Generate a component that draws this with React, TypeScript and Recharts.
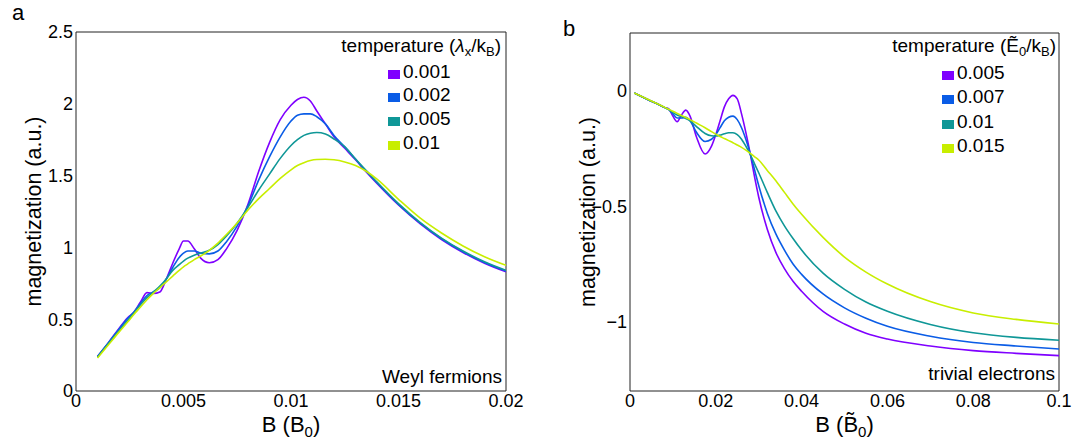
import React from "react"
import { LineChart, Line, XAxis, YAxis, ReferenceArea, Legend, Label } from "recharts"

const FONT = '"Liberation Sans", Arial, Helvetica, sans-serif'
const COLORS = ["#7f00ff", "#0a5ce6", "#0f9797", "#c8ee00"]

// panel a: Weyl fermions
const weylTemps = ["0.001", "0.002", "0.005", "0.01"]
const weylB = [
  0.001, 0.0015, 0.002, 0.0024, 0.0027, 0.003, 0.0033, 0.0036, 0.0039, 0.0042, 0.0045, 0.0048, 0.005, 0.0052,
  0.0055, 0.0058, 0.0062, 0.0066, 0.007, 0.0075, 0.008, 0.0085, 0.009, 0.0095, 0.01, 0.0103, 0.0106, 0.0109,
  0.0112, 0.0116, 0.012, 0.0125, 0.013, 0.0135, 0.014, 0.015, 0.016, 0.017, 0.018, 0.019, 0.02,
]
const weylT0001 = [
  0.24, 0.335, 0.435, 0.51, 0.55, 0.62, 0.685, 0.68, 0.69, 0.78, 0.89, 0.99, 1.045, 1.045, 0.99, 0.925, 0.893,
  0.915, 0.99, 1.12, 1.3, 1.53, 1.73, 1.89, 1.99, 2.03, 2.046, 2.02, 1.95, 1.86, 1.77, 1.69, 1.61, 1.525, 1.445,
  1.295, 1.165, 1.055, 0.965, 0.89, 0.83,
]
const weylT0002 = [
  0.24, 0.335, 0.43, 0.505, 0.55, 0.61, 0.665, 0.69, 0.72, 0.78, 0.86, 0.93, 0.96, 0.975, 0.975, 0.96, 0.955,
  0.975, 1.04, 1.15, 1.29, 1.47, 1.63, 1.77, 1.88, 1.92, 1.93, 1.93, 1.91, 1.86, 1.78, 1.7, 1.615, 1.53, 1.45,
  1.3, 1.17, 1.06, 0.97, 0.895, 0.835,
]
const weylT0005 = [
  0.235, 0.33, 0.42, 0.49, 0.545, 0.6, 0.65, 0.69, 0.73, 0.78, 0.84, 0.88, 0.905, 0.925, 0.945, 0.96, 0.98, 1.02,
  1.08, 1.17, 1.28, 1.4, 1.51, 1.62, 1.71, 1.75, 1.78, 1.795, 1.8, 1.79, 1.755, 1.7, 1.615, 1.535, 1.455, 1.305,
  1.175, 1.065, 0.975, 0.9, 0.84,
]
const weylT001 = [
  0.23, 0.32, 0.41, 0.48, 0.535, 0.585, 0.635, 0.68, 0.72, 0.76, 0.8, 0.84, 0.865, 0.885, 0.915, 0.94, 0.98, 1.03,
  1.09, 1.17, 1.26, 1.34, 1.41, 1.48, 1.54, 1.57, 1.59, 1.605, 1.612, 1.614, 1.61, 1.595, 1.57, 1.53, 1.475, 1.335,
  1.205, 1.1, 1.01, 0.935, 0.875,
]

// panel b: trivial electrons
const trivialTemps = ["0.005", "0.007", "0.01", "0.015"]
const trivialB = [
  0.001, 0.004, 0.007, 0.008, 0.009, 0.01, 0.011, 0.012, 0.013, 0.014, 0.0155, 0.0175, 0.019, 0.02, 0.021, 0.022,
  0.023, 0.024, 0.025, 0.026, 0.027, 0.028, 0.029, 0.03, 0.032, 0.034, 0.036, 0.038, 0.04, 0.045, 0.05, 0.055,
  0.06, 0.07, 0.08, 0.09, 0.1,
]
const trivialT0005 = [
  -0.01, -0.037, -0.063, -0.072, -0.078, -0.11, -0.134, -0.105, -0.084, -0.11, -0.2, -0.274, -0.24, -0.19, -0.13,
  -0.07, -0.035, -0.02, -0.035, -0.1, -0.18, -0.27, -0.37, -0.46, -0.6, -0.7, -0.77, -0.825, -0.868, -0.955,
  -1.01, -1.05, -1.075, -1.105, -1.125, -1.137, -1.147,
]
const trivialT0007 = [
  -0.01, -0.037, -0.063, -0.072, -0.081, -0.1, -0.118, -0.118, -0.115, -0.13, -0.18, -0.22, -0.21, -0.19, -0.16,
  -0.13, -0.115, -0.11, -0.125, -0.16, -0.21, -0.27, -0.34, -0.41, -0.53, -0.62, -0.69, -0.75, -0.795, -0.88,
  -0.94, -0.985, -1.02, -1.063, -1.09, -1.105, -1.118,
]
const trivialT001 = [
  -0.01, -0.037, -0.063, -0.072, -0.082, -0.095, -0.105, -0.112, -0.12, -0.13, -0.155, -0.185, -0.195, -0.196,
  -0.192, -0.186, -0.182, -0.182, -0.19, -0.21, -0.24, -0.275, -0.315, -0.355, -0.44, -0.52, -0.585, -0.64,
  -0.69, -0.79, -0.86, -0.915, -0.955, -1.012, -1.048, -1.068, -1.08,
]
const trivialT0015 = [
  -0.01, -0.036, -0.062, -0.071, -0.08, -0.089, -0.098, -0.107, -0.116, -0.125, -0.14, -0.16, -0.177, -0.188,
  -0.198, -0.207, -0.216, -0.225, -0.235, -0.245, -0.257, -0.27, -0.285, -0.3, -0.345, -0.39, -0.44, -0.49,
  -0.535, -0.635, -0.72, -0.785, -0.837, -0.913, -0.962, -0.99, -1.01,
]

const weylTicksX = [0, 0.005, 0.01, 0.015, 0.02]
const weylTicksY = [0, 0.5, 1, 1.5, 2, 2.5]
const trivialTicksX = [0, 0.02, 0.04, 0.06, 0.08, 0.1]
const trivialTicksY = [-1, -0.5, 0]

const weylData = weylB.map((b, i) => ({ b, s0: weylT0001[i], s1: weylT0002[i], s2: weylT0005[i], s3: weylT001[i] }))
const trivialData = trivialB.map((b, i) => ({
  b,
  s0: trivialT0005[i],
  s1: trivialT0007[i],
  s2: trivialT001[i],
  s3: trivialT0015[i],
}))

const tickStyle = { fill: "#000", fontSize: 18, fontFamily: FONT }
const subStyle: React.CSSProperties = { fontSize: 13, position: "relative", top: 4, verticalAlign: "baseline" }

function TempLegend({ payload, title, indent, rowHeight }: any) {
  return (
    <div style={{ fontFamily: FONT, fontSize: 19, color: "#000", lineHeight: `${rowHeight}px` }}>
      <div style={{ textAlign: "right", whiteSpace: "nowrap" }}>{title}</div>
      {(payload || []).map((p: any) => (
        <div key={p.value} style={{ paddingLeft: indent, whiteSpace: "nowrap" }}>
          <span
            style={{ display: "inline-block", width: 12, height: 9, background: p.color, marginRight: 3, marginBottom: -1 }}
          />
          {p.value}
        </div>
      ))}
    </div>
  )
}

function yTitle(props: any) {
  const { x, y, height } = props.viewBox
  const cx = x + 17.5
  const cy = y + height / 2
  return (
    <text
      x={cx}
      y={cy}
      transform={`rotate(-90, ${cx}, ${cy})`}
      textAnchor="middle"
      dominantBaseline="central"
      fontSize={21.5}
      fontFamily={FONT}
      fill="#000"
    >
      magnetization (a.u.)
    </text>
  )
}

function xTitle(tilde: boolean) {
  return (props: any) => {
    const { x, y, width } = props.viewBox
    return (
      <text x={x + width / 2} y={y + 41} textAnchor="middle" fontSize={22} fontFamily={FONT} fill="#000">
        {tilde ? "B (B\u0303" : "B (B"}
        <tspan dy={5} fontSize={15}>
          0
        </tspan>
        <tspan dy={-5}>)</tspan>
      </text>
    )
  }
}

function note(text: string, dy: number) {
  return (props: any) => {
    const { x, y, width, height } = props.viewBox
    return (
      <text x={x + width - 4} y={y + height - dy} textAnchor="end" fontSize={19} fontFamily={FONT} fill="#000">
        {text}
      </text>
    )
  }
}

const minus = (v: number) => String(v).replace("-", "\u2212")

function lines(names: string[]) {
  return names.map((n, i) => (
    <Line
      key={n}
      type="monotone"
      dataKey={`s${i}`}
      name={n}
      stroke={COLORS[i]}
      strokeWidth={1.6}
      dot={false}
      activeDot={false}
      isAnimationActive={false}
    />
  ))
}

export default function App() {
  return (
    <div style={{ position: "absolute", left: 0, top: 0, width: 1083, height: 443, background: "#fff", fontFamily: FONT }}>
      <div style={{ position: "absolute", left: 12, top: 0, fontSize: 22, lineHeight: "26px" }}>a</div>
      <div style={{ position: "absolute", left: 563, top: 16, fontSize: 22, lineHeight: "26px" }}>b</div>

      <div style={{ position: "absolute", left: 0, top: 0 }}>
        <LineChart width={540} height={443} data={weylData} margin={{ top: 32, right: 34, bottom: 22, left: 16 }}>
          <XAxis
            dataKey="b"
            type="number"
            domain={[0, 0.02]}
            ticks={weylTicksX}
            allowDataOverflow
            axisLine={false}
            tickLine={false}
            tickSize={0}
            tickMargin={3}
            height={30}
            tick={tickStyle}
            interval={0}
          >
            <Label content={xTitle(false)} />
          </XAxis>
          <YAxis
            type="number"
            domain={[0, 2.5]}
            ticks={weylTicksY}
            allowDataOverflow
            axisLine={false}
            tickLine={false}
            tickSize={0}
            tickMargin={3}
            width={60}
            tick={tickStyle}
            interval={0}
          >
            <Label content={yTitle} />
          </YAxis>
          <ReferenceArea x1={0} x2={0.02} y1={0} y2={2.5} fill="none" fillOpacity={0} stroke="#222" strokeWidth={1}>
            <Label content={note("Weyl fermions", 8)} />
          </ReferenceArea>
          {lines(weylTemps)}
          <Legend
            layout="vertical"
            align="center"
            verticalAlign="middle"
            wrapperStyle={{ left: 300, top: 34, width: 201, height: "auto" }}
            content={(p: any) => (
              <TempLegend
                payload={p.payload}
                indent={88}
                rowHeight={23.7}
                title={
                  <>
                    temperature (<i>λ</i>
                    <span style={subStyle}>x</span>/k<span style={subStyle}>B</span>)
                  </>
                }
              />
            )}
          />
        </LineChart>
      </div>

      <div style={{ position: "absolute", left: 540, top: 0 }}>
        <LineChart width={543} height={443} data={trivialData} margin={{ top: 33, right: 24, bottom: 22, left: 30 }}>
          <XAxis
            dataKey="b"
            type="number"
            domain={[0, 0.1]}
            ticks={trivialTicksX}
            allowDataOverflow
            axisLine={false}
            tickLine={false}
            tickSize={0}
            tickMargin={3}
            height={30}
            tick={tickStyle}
            interval={0}
          >
            <Label content={xTitle(true)} />
          </XAxis>
          <YAxis
            type="number"
            domain={[-1.3, 0.25]}
            ticks={trivialTicksY}
            allowDataOverflow
            axisLine={false}
            tickLine={false}
            tickSize={0}
            tickMargin={3}
            width={60}
            tick={tickStyle}
            tickFormatter={minus}
            interval={0}
          >
            <Label content={yTitle} />
          </YAxis>
          <ReferenceArea x1={0} x2={0.1} y1={-1.3} y2={0.25} fill="none" fillOpacity={0} stroke="#222" strokeWidth={1}>
            <Label content={note("trivial electrons", 11)} />
          </ReferenceArea>
          {lines(trivialTemps)}
          <Legend
            layout="vertical"
            align="center"
            verticalAlign="middle"
            wrapperStyle={{ left: 315, top: 34, width: 201, height: "auto" }}
            content={(p: any) => (
              <TempLegend
                payload={p.payload}
                indent={87}
                rowHeight={24.5}
                title={
                  <>
                    temperature (Ẽ<span style={subStyle}>0</span>/k<span style={subStyle}>B</span>)
                  </>
                }
              />
            )}
          />
        </LineChart>
      </div>
    </div>
  )
}
